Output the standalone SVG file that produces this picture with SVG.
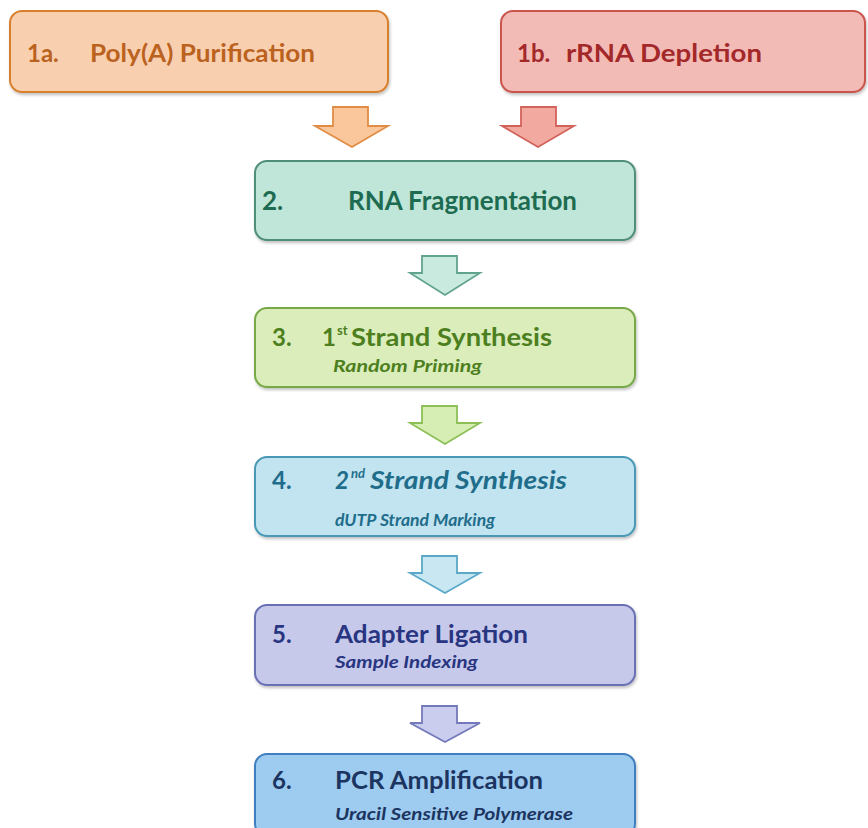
<svg xmlns="http://www.w3.org/2000/svg" width="868" height="828" viewBox="0 0 868 828">
<defs>
<filter id="sh" x="-5%" y="-10%" width="110%" height="130%">
<feDropShadow dx="1" dy="2" stdDeviation="1.5" flood-color="#000" flood-opacity="0.25"/>
</filter>
</defs>
<style>
text{font-family:Lato,"Open Sans","Liberation Sans",sans-serif;font-weight:bold}
.m{font-size:24px}
.s{font-size:17px;font-style:italic}
.i{font-style:italic}
.sup{font-size:13px}
.box{stroke-width:2;filter:url(#sh)}
.arr{stroke-width:1.8;stroke-linejoin:miter}
</style>
<rect width="868" height="828" fill="#fff"/>
<g id="connectors">
<path class="arr" d="M333,107 H368 V126 H388 L352,147 L315,126 H333 Z" fill="#fac79c" stroke="#e08c44"/>
<path class="arr" d="M521,107 H556 V126 H574 L538,147 L502,126 H521 Z" fill="#f2a9a0" stroke="#d2635b"/>
<path class="arr" d="M422,256 H457 V273 H480 L445,295 L410,273 H422 Z" fill="#c9ebdf" stroke="#62a38c"/>
<path class="arr" d="M422,406 H457 V423 H480 L445,444 L410,423 H422 Z" fill="#d6edb4" stroke="#8cbf55"/>
<path class="arr" d="M422,556 H457 V573 H480 L445,593 L410,573 H422 Z" fill="#c8e7f2" stroke="#5aa8c8"/>
<path class="arr" d="M422,706 H457 V723 H480 L445,742 L410,723 H422 Z" fill="#cacdee" stroke="#7479bb"/>
</g>
<g id="n1a">
<rect class="box" x="10" y="11" width="378" height="81" rx="12" fill="#f8d0b0" stroke="#d8802f"/>
<text class="m" x="27" y="62" fill="#bb621f" font-size="23">1a.</text>
<text class="m" x="90" y="62" fill="#bb621f" font-size="23" textLength="225" lengthAdjust="spacingAndGlyphs">Poly(A) Purification</text>
</g>
<g id="n1b">
<rect class="box" x="501" y="11" width="364" height="81" rx="12" fill="#f3bbb5" stroke="#c9554e"/>
<text class="m" x="517" y="62" fill="#a3282a" font-size="23">1b.</text>
<text class="m" x="566" y="62" fill="#a3282a" font-size="23" textLength="196" lengthAdjust="spacingAndGlyphs">rRNA Depletion</text>
</g>
<g id="n2">
<rect class="box" x="255" y="161" width="380" height="79" rx="12" fill="#c0e6d9" stroke="#4f8f77"/>
<text x="262" y="210" fill="#1d6b50" font-size="26">2.</text>
<text x="348" y="210" fill="#1d6b50" font-size="26" textLength="229" lengthAdjust="spacingAndGlyphs">RNA Fragmentation</text>
</g>
<g id="n3">
<rect class="box" x="255" y="308" width="380" height="79" rx="12" fill="#daedbb" stroke="#78a947"/>
<text class="m" x="272" y="346" fill="#4d7f1e">3.</text>
<text class="m" x="322" y="346" fill="#4d7f1e">1</text>
<text class="sup" x="337" y="335" fill="#4d7f1e">st</text>
<text class="m" x="351" y="346" fill="#4d7f1e" textLength="201" lengthAdjust="spacingAndGlyphs">Strand Synthesis</text>
<text class="s" x="333" y="372" fill="#4d7f1e" textLength="149" lengthAdjust="spacingAndGlyphs">Random Priming</text>
</g>
<g id="n4">
<rect class="box" x="255" y="457" width="380" height="79" rx="12" fill="#c1e4f0" stroke="#4a98b6"/>
<text class="m" x="272" y="489" fill="#1f6d8a">4.</text>
<text class="m i" x="335" y="489" fill="#1f6d8a">2</text>
<text class="sup i" x="351" y="478" fill="#1f6d8a">nd</text>
<text class="m i" x="370" y="489" fill="#1f6d8a" textLength="197" lengthAdjust="spacingAndGlyphs">Strand Synthesis</text>
<text class="s" x="335" y="526" fill="#1f6d8a" textLength="160" lengthAdjust="spacingAndGlyphs">dUTP Strand Marking</text>
</g>
<g id="n5">
<rect class="box" x="255" y="605" width="380" height="80" rx="12" fill="#c7c9eb" stroke="#6a70b4"/>
<text class="m" x="272" y="643" fill="#283580" font-size="25">5.</text>
<text class="m" x="335" y="643" fill="#283580" font-size="25" textLength="193" lengthAdjust="spacingAndGlyphs">Adapter Ligation</text>
<text class="s" x="335" y="668" fill="#283580" textLength="143" lengthAdjust="spacingAndGlyphs">Sample Indexing</text>
</g>
<g id="n6">
<rect class="box" x="255" y="754" width="380" height="82" rx="12" fill="#9ecbf0" stroke="#3f7fbf"/>
<text class="m" x="272" y="789" fill="#1c3560">6.</text>
<text class="m" x="335" y="789" fill="#1c3560" textLength="208" lengthAdjust="spacingAndGlyphs">PCR Amplification</text>
<text class="s" x="335" y="820" fill="#1c3560" textLength="238" lengthAdjust="spacingAndGlyphs">Uracil Sensitive Polymerase</text>
</g>
</svg>
